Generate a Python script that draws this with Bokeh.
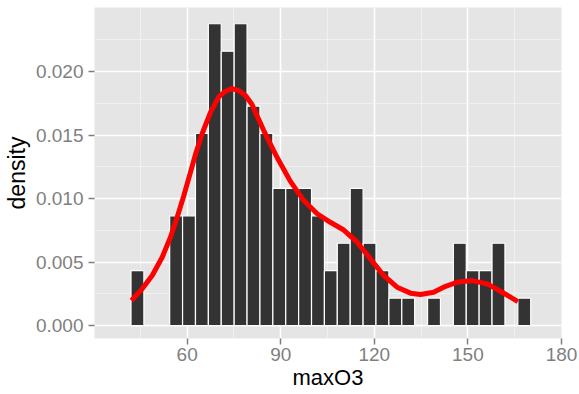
from bokeh.plotting import figure
from bokeh.models import FixedTicker, Range1d
from bokeh.embed import file_html
from bokeh.resources import INLINE

# Histogram bins (edges) and densities
bin_edges = [42.00, 46.13, 50.27, 54.40, 58.53, 62.67, 66.80, 70.93, 75.07, 79.20,
             83.33, 87.47, 91.60, 95.73, 99.87, 104.00, 108.13, 112.27, 116.40, 120.53,
             124.67, 128.80, 132.93, 137.07, 141.20, 145.33, 149.47, 153.60, 157.73,
             161.87, 166.00, 170.13]
bin_density = [0.00432, 0.0, 0.0, 0.00864, 0.00864, 0.01512, 0.02376, 0.02160, 0.02376,
               0.01728, 0.01512, 0.01080, 0.01080, 0.01080, 0.00864, 0.00432, 0.00648,
               0.01080, 0.00648, 0.00432, 0.00216, 0.00216, 0.0, 0.00216, 0.0,
               0.00648, 0.00432, 0.00432, 0.00648, 0.0, 0.00216]

# Kernel density curve
kde_x = [42.15, 45.6, 48.8, 52.0, 54.65, 56.8, 58.9, 61.1, 62.7, 64.8, 67.5, 70.1, 72.3,
         74.4, 76.5, 78.7, 80.8, 84.55, 88.8, 93.1, 97.4, 101.7, 105.9, 110.2, 114.5,
         118.75, 123.0, 127.3, 131.6, 134.8, 139.0, 142.2, 146.5, 151.3, 156.2, 161.0, 166.0]
kde_y = [0.00197, 0.00289, 0.00394, 0.00538, 0.00695, 0.00853, 0.01020, 0.01210, 0.01350,
         0.01510, 0.01680, 0.01800, 0.01845, 0.01866, 0.01850, 0.01811, 0.01740, 0.01535,
         0.01325, 0.01135, 0.00984, 0.00880, 0.00813, 0.00752, 0.00656, 0.00525, 0.00394,
         0.00302, 0.00255, 0.00244, 0.00262, 0.00302, 0.00341, 0.00354, 0.00328, 0.00262,
         0.00189]

x_ticks = [60, 90, 120, 150, 180]
x_minor = [45, 75, 105, 135, 165]
y_ticks = [0.000, 0.005, 0.010, 0.015, 0.020]
y_minor = [0.0025, 0.0075, 0.0125, 0.0175, 0.0225]

p = figure(width=579, height=394, output_backend="svg", toolbar_location=None,
           x_range=Range1d(30.3, 180.0), y_range=Range1d(-0.00102, 0.02504),
           min_border_left=94, min_border_right=18, min_border_top=7, min_border_bottom=56,
           x_axis_label="maxO3", y_axis_label="density")

p.background_fill_color = "#E5E5E5"
p.border_fill_color = "white"
p.outline_line_color = None

p.xaxis.ticker = FixedTicker(ticks=x_ticks, minor_ticks=x_minor)
p.yaxis.ticker = FixedTicker(ticks=y_ticks, minor_ticks=y_minor)
p.yaxis.major_label_overrides = {v: "%.3f" % v for v in y_ticks}

for g in (p.xgrid[0], p.ygrid[0]):
    g.grid_line_color = "white"
    g.grid_line_width = 1.6
    g.minor_grid_line_color = "#F2F2F2"
    g.minor_grid_line_width = 0.8

for ax in (p.xaxis[0], p.yaxis[0]):
    ax.axis_line_color = None
    ax.major_tick_line_color = "#7F7F7F"
    ax.major_tick_line_width = 1.5
    ax.major_tick_in = 0
    ax.major_tick_out = 6
    ax.minor_tick_line_color = None
    ax.major_label_text_color = "#7F7F7F"
    ax.major_label_text_font = "Liberation Sans"
    ax.major_label_text_font_size = "19px"
    ax.axis_label_text_font = "Liberation Sans"
    ax.axis_label_text_font_style = "normal"
    ax.axis_label_text_color = "black"

p.xaxis[0].axis_label_text_font_size = "22px"
p.yaxis[0].axis_label_text_font_size = "23px"
p.xaxis[0].major_label_standoff = 3
p.xaxis[0].axis_label_standoff = 1
p.yaxis[0].major_label_standoff = 5
p.yaxis[0].axis_label_standoff = 3

p.quad(left=bin_edges[:-1], right=bin_edges[1:], bottom=0, top=bin_density,
       fill_color="#333333", line_color="white", line_width=1.2)

p.line(kde_x, kde_y, line_color="red", line_width=5, line_join="round")

open("out.html", "w").write(file_html(p, INLINE))
